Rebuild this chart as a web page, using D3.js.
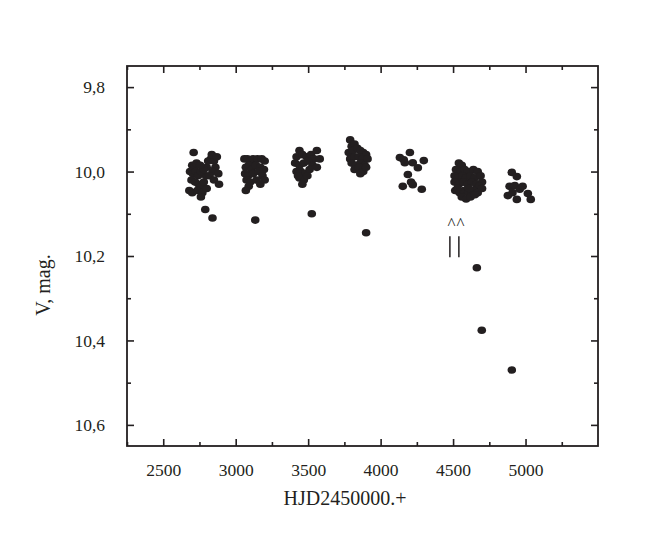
<!DOCTYPE html>
<html>
<head>
<meta charset="utf-8">
<script src="https://cdn.jsdelivr.net/npm/d3@7"></script>
<style>
  body { margin: 0; background: #fff; }
  text { font-family: "Liberation Serif", "Times New Roman", serif; fill: #231f20; }
</style>
</head>
<body>
<div id="chart"></div>
<script>
// observing seasons, HJD - 2450000 and V magnitude
var season1 = [[2710,9.955],[2700,9.985],[2715,9.99],[2730,9.98],[2685,10.0],[2705,10.005],[2725,10.0],[2740,10.01],
  [2695,10.02],[2720,10.025],[2745,10.03],[2760,10.035],[2680,10.045],[2700,10.05],[2735,10.045],[2770,10.05],
  [2780,10.025],[2795,10.01],[2800,9.99],[2810,9.975],[2830,9.97],[2850,9.975],[2860,9.99],[2840,10.0],
  [2820,10.01],[2850,10.02],[2885,10.03],[2800,10.04],[2760,10.0],[2780,9.995],[2755,9.985],[2835,9.96],
  [2870,9.965],[2760,10.06],[2880,10.005]];
var season2 = [[3060,9.97],[3080,9.97],[3100,9.975],[3120,9.97],[3150,9.97],[3180,9.97],[3200,9.975],[3070,9.99],
  [3090,9.985],[3110,9.995],[3140,9.985],[3170,9.99],[3195,9.995],[3065,10.005],[3085,10.01],[3120,10.005],
  [3160,10.0],[3185,10.01],[3075,10.02],[3100,10.025],[3145,10.02],[3200,10.02],[3170,10.03],[3090,10.035],[3070,10.045]];
var season3 = [[3440,9.95],[3560,9.95],[3420,9.965],[3460,9.96],[3490,9.965],[3520,9.96],[3540,9.97],[3580,9.97],
  [3410,9.98],[3440,9.985],[3470,9.98],[3500,9.975],[3530,9.985],[3560,9.99],[3420,10.0],[3450,10.0],
  [3480,10.005],[3510,9.995],[3440,10.015],[3470,10.02],[3495,10.01],[3460,10.03],[3430,10.01]];
var season4 = [[3790,9.925],[3800,9.94],[3820,9.935],[3780,9.955],[3810,9.95],[3840,9.945],[3860,9.95],[3880,9.955],
  [3900,9.96],[3790,9.97],[3820,9.965],[3850,9.965],[3875,9.97],[3910,9.97],[3800,9.98],[3830,9.985],
  [3860,9.98],[3890,9.985],[3820,9.995],[3850,9.99],[3880,10.0],[3900,9.99],[3860,10.005]];
var season5 = [[4133,9.967],[4160,9.972],[4202,9.955],[4167,9.979],[4222,9.979],[4257,9.991],[4298,9.974],
  [4188,10.007],[4153,10.035],[4222,10.031],[4210,10.025],[4284,10.042]];
var season6 = [[4540,9.98],[4560,9.985],[4520,9.995],[4550,10.0],[4580,9.995],[4600,10.0],[4640,9.995],[4670,10.0],
  [4510,10.01],[4535,10.015],[4565,10.01],[4590,10.015],[4620,10.01],[4650,10.015],[4690,10.01],[4700,10.025],
  [4510,10.025],[4540,10.03],[4570,10.025],[4600,10.03],[4630,10.025],[4660,10.03],[4680,10.035],[4515,10.045],
  [4545,10.05],[4575,10.045],[4605,10.05],[4640,10.045],[4670,10.05],[4700,10.04],[4560,10.06],[4590,10.065],
  [4620,10.06],[4650,10.055],[4530,10.04],[4610,10.04]];
var season7 = [[4905,10.002],[4940,10.012],[4890,10.035],[4926,10.033],[4960,10.042],[4980,10.035],[4878,10.057],
  [4910,10.05],[4940,10.066],[5016,10.052],[5036,10.066]];
var faint = [[2790,10.09],[2840,10.11],[3135,10.115],[3525,10.10],[3900,10.145],[4664,10.228],[4698,10.376],[4905,10.47]];
var markEpochs = [4478, 4540];

var xMajor = [2500, 3000, 3500, 4000, 4500, 5000];
var xMinor = [2250, 2750, 3250, 3750, 4250, 4750, 5250];
var yMajor = [9.8, 10.0, 10.2, 10.4, 10.6];
var yMinor = [9.9, 10.1, 10.3, 10.5];

var margin = { top: 66, left: 127, right: 66, bottom: 103 },
  width = 664 - margin.left - margin.right,
  height = 549 - margin.top - margin.bottom;

var svg = d3.select("#chart")
  .append("svg")
  .attr("width", 664)
  .attr("height", 549)
  .append("g")
  .attr("transform", "translate(" + margin.left + "," + margin.top + ")");

var x = d3.scaleLinear().domain([2250, 5500]).range([0, width]);
var y = d3.scaleLinear().domain([9.75, 10.65]).range([0, height]);

var fmtY = function(d) { return d3.format(".1f")(d).replace(".", ","); };

// axes: ticks pointing inward on all four sides
function addAxis(axis, values, size, tr, labels) {
  var g = svg.append("g").attr("transform", tr)
    .call(axis.tickValues(values).tickSize(size).tickPadding(labels ? 14 : 0));
  g.select(".domain").remove();
  g.selectAll("line").attr("stroke", "#231f20").attr("stroke-width", 1.6);
  if (!labels) g.selectAll("text").remove();
  return g;
}

var bx = addAxis(d3.axisBottom(x).tickFormat(d3.format("d")), xMajor, -7, "translate(0," + height + ")", true);
bx.selectAll("text").attr("font-size", 17.5).attr("dy", "0.9em");
addAxis(d3.axisBottom(x), xMinor, -4, "translate(0," + height + ")", false);
addAxis(d3.axisTop(x), xMajor, -7, "translate(0,0)", false);
addAxis(d3.axisTop(x), xMinor, -4, "translate(0,0)", false);

var ly = addAxis(d3.axisLeft(y).tickFormat(fmtY), yMajor, -7, "translate(0,0)", true);
ly.selectAll("text").attr("font-size", 17.5).attr("dx", "-8");
addAxis(d3.axisLeft(y), yMinor, -4, "translate(0,0)", false);
addAxis(d3.axisRight(y), yMajor, -7, "translate(" + width + ",0)", false);
addAxis(d3.axisRight(y), yMinor, -4, "translate(" + width + ",0)", false);

svg.append("rect")
  .attr("width", width)
  .attr("height", height)
  .attr("fill", "none")
  .attr("stroke", "#231f20")
  .attr("stroke-width", 1.8);

var all = season1.concat(season2, season3, season4, season5, season6, season7, faint);

svg.selectAll(".pt")
  .data(all)
  .enter()
  .append("ellipse")
  .attr("class", "pt")
  .attr("cx", function(d) { return x(d[0]); })
  .attr("cy", function(d) { return y(d[1]); })
  .attr("rx", 4.3)
  .attr("ry", 3.8)
  .attr("fill", "#231f20");

// epoch marks
svg.selectAll(".mark-line")
  .data(markEpochs)
  .enter()
  .append("line")
  .attr("class", "mark-line")
  .attr("x1", function(d) { return x(d); })
  .attr("x2", function(d) { return x(d); })
  .attr("y1", y(10.153))
  .attr("y2", y(10.203))
  .attr("stroke", "#231f20")
  .attr("stroke-width", 1.5);

svg.selectAll(".mark-cap")
  .data(markEpochs)
  .enter()
  .append("text")
  .attr("class", "mark-cap")
  .attr("x", function(d) { return x(d) + 1.5; })
  .attr("y", y(10.137))
  .attr("text-anchor", "middle")
  .attr("font-size", 17)
  .text("^");

svg.append("text")
  .attr("x", 345 - margin.left)
  .attr("y", height + 59)
  .attr("text-anchor", "middle")
  .attr("font-size", 20)
  .text("HJD2450000.+");

svg.append("text")
  .attr("transform", "translate(" + (50 - margin.left) + "," + (285 - margin.top) + ") rotate(-90)")
  .attr("text-anchor", "middle")
  .attr("font-size", 20)
  .text("V, mag.");
</script>
</body>
</html>
